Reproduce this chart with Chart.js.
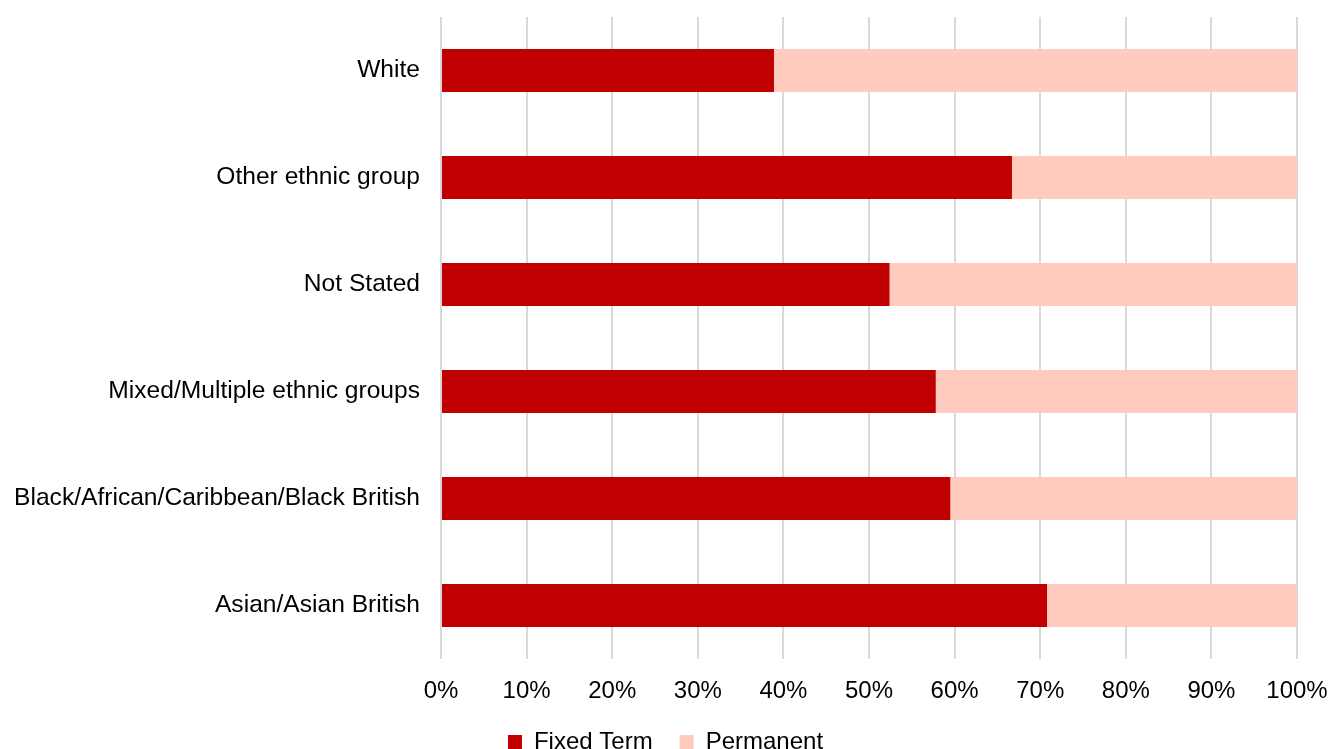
<!DOCTYPE html>
<html>
<head>
<meta charset="utf-8">
<script src="https://cdn.jsdelivr.net/npm/chart.js@4/dist/chart.umd.min.js"></script>
<style>
  html, body { margin: 0; padding: 0; background: #ffffff; overflow: hidden; }
  #wrap { position: relative; width: 1331px; height: 764px; }
</style>
</head>
<body>
<div id="wrap"><canvas id="chart"></canvas></div>
<script>
// Share of contract type by ethnic group (percent of staff)
const categories = [
  'White',
  'Other ethnic group',
  'Not Stated',
  'Mixed/Multiple ethnic groups',
  'Black/African/Caribbean/Black British',
  'Asian/Asian British'
];
const fixedTerm = [38.9, 66.7, 52.4, 57.8, 59.5, 70.8];
const permanent = [61.1, 33.3, 47.6, 42.2, 40.5, 29.2];
const xTicks = [0, 10, 20, 30, 40, 50, 60, 70, 80, 90, 100];

const FONT = "'Liberation Sans', Arial, sans-serif";

new Chart(document.getElementById('chart'), {
  type: 'bar',
  data: {
    labels: categories,
    datasets: [
      { label: 'Fixed Term', data: fixedTerm, backgroundColor: '#C00000', borderWidth: 0 },
      { label: 'Permanent', data: permanent, backgroundColor: '#FFCBBF', borderWidth: 0 }
    ]
  },
  options: {
    indexAxis: 'y',
    responsive: true,
    maintainAspectRatio: false,
    animation: false,
    layout: { padding: { top: 17, right: 0, left: 0, bottom: 0 } },
    datasets: { bar: { categoryPercentage: 1, barPercentage: 0.4 } },
    scales: {
      x: {
        stacked: true,
        min: 0,
        max: 100,
        afterBuildTicks: (scale) => { scale.ticks = xTicks.map(v => ({ value: v })); },
        ticks: {
          callback: (v) => v + '%',
          color: '#000000',
          font: { family: FONT, size: 24 },
          padding: 18,
          maxRotation: 0
        },
        grid: { color: '#D9D9D9', lineWidth: 2, drawTicks: false },
        border: { display: false },
        afterFit: (scale) => {
          scale.height = 44;
          scale.paddingLeft = 0;
          scale.paddingRight = 34;
        }
      },
      y: {
        stacked: true,
        ticks: {
          color: '#000000',
          font: { family: FONT, size: 24.6 },
          padding: 21
        },
        grid: { display: false, drawTicks: false },
        border: { display: false },
        afterFit: (scale) => {
          scale.width = 441;
          scale.paddingTop = 0;
          scale.paddingBottom = 0;
        }
      }
    },
    plugins: {
      tooltip: { enabled: false },
      legend: {
        position: 'bottom',
        labels: {
          color: '#000000',
          font: { family: FONT, size: 24 },
          boxWidth: 14,
          boxHeight: 14,
          padding: 27
        }
      }
    }
  }
});
</script>
</body>
</html>
